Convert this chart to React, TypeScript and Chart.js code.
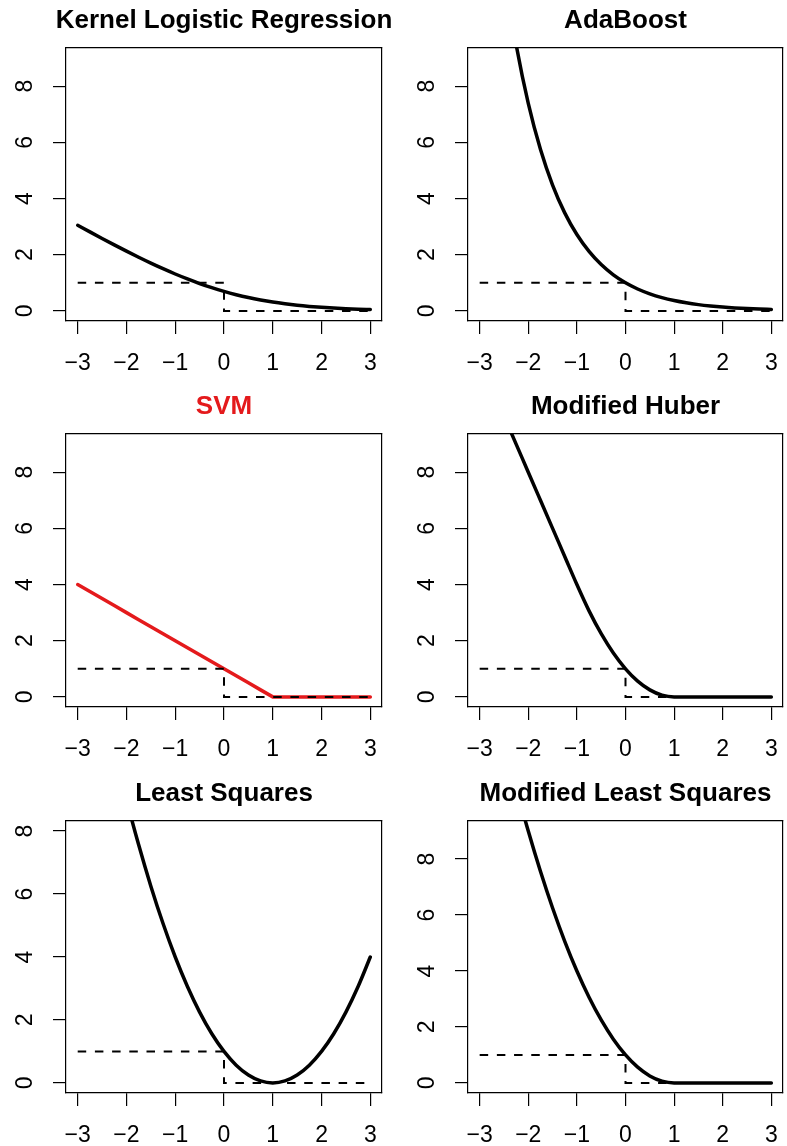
import React, { useEffect, useRef } from "react";
import { Chart, registerables } from "chart.js";

Chart.register(...registerables);

// ---------- data ----------
const lossX = [-3, -2.75, -2.5, -2.25, -2, -1.75, -1.5, -1.25, -1, -0.75, -0.5, -0.25, 0, 0.25, 0.5, 0.75, 1, 1.25, 1.5, 1.75, 2, 2.25, 2.5, 2.75, 3];

const logisticLoss = [3.049, 2.812, 2.579, 2.35, 2.127, 1.91, 1.701, 1.502, 1.313, 1.137, 0.974, 0.826, 0.693, 0.576, 0.474, 0.387, 0.313, 0.252, 0.201, 0.16, 0.127, 0.1, 0.079, 0.062, 0.049];
const expLoss = [20.086, 15.643, 12.182, 9.488, 7.389, 5.755, 4.482, 3.49, 2.718, 2.117, 1.649, 1.284, 1.0, 0.779, 0.607, 0.472, 0.368, 0.287, 0.223, 0.174, 0.135, 0.105, 0.082, 0.064, 0.05];
const hingeLoss = [4, 3.75, 3.5, 3.25, 3, 2.75, 2.5, 2.25, 2, 1.75, 1.5, 1.25, 1, 0.75, 0.5, 0.25, 0, 0, 0, 0, 0, 0, 0, 0, 0];
const huberLoss = [12, 11, 10, 9, 8, 7, 6, 5, 4, 3.0625, 2.25, 1.5625, 1, 0.5625, 0.25, 0.0625, 0, 0, 0, 0, 0, 0, 0, 0, 0];
const squaredLoss = [16, 14.0625, 12.25, 10.5625, 9, 7.5625, 6.25, 5.0625, 4, 3.0625, 2.25, 1.5625, 1, 0.5625, 0.25, 0.0625, 0, 0.0625, 0.25, 0.5625, 1, 1.5625, 2.25, 3.0625, 4];
const modSquaredLoss = [16, 14.0625, 12.25, 10.5625, 9, 7.5625, 6.25, 5.0625, 4, 3.0625, 2.25, 1.5625, 1, 0.5625, 0.25, 0.0625, 0, 0, 0, 0, 0, 0, 0, 0, 0];

const zeroOneX = [-3, 0, 0, 3];
const zeroOneY = [1, 1, 0, 0];

const xTickValues = [-3, -2, -1, 0, 1, 2, 3];
const yTickValues = [0, 2, 4, 6, 8];

const panelTitles = ["Kernel Logistic Regression", "AdaBoost", "SVM", "Modified Huber", "Least Squares", "Modified Least Squares"];
const panelYLimits = [9, 9, 9, 9, 8, 9];

// ---------- style ----------
const FONT = "'Liberation Sans', Arial, Helvetica, sans-serif";
const BLACK = "#000000";
const RED = "#E41A1C";
const AXIS = 66; // space left/right of the plot box inside a canvas
const TOP = 48; // plot box top inside a canvas
const TITLE_TOP = 8;
const TITLE_SIZE = 26;
const TICK_SIZE = 23;

type PanelProps = {
  title: string;
  color: string;
  values: number[];
  yLimit: number;
  smooth: boolean;
  left: number;
  top: number;
  boxW: number;
  boxH: number;
  height: number;
};

function Panel(p: PanelProps) {
  const ref = useRef<HTMLCanvasElement>(null);
  const width = p.boxW + 2 * AXIS;
  const bottomSpace = p.height - TOP - p.boxH;

  useEffect(() => {
    const canvas = ref.current;
    if (!canvas) return;
    const xPad = (3 - -3) * 0.04;
    const yPad = p.yLimit * 0.04;
    const zeroPad = (s: any) => {
      s.paddingLeft = s.paddingRight = s.paddingTop = s.paddingBottom = 0;
    };
    const chart = new Chart(canvas, {
      type: "line",
      data: {
        datasets: [
          {
            label: "0-1",
            data: zeroOneX.map((x, i) => ({ x, y: zeroOneY[i] })),
            borderColor: BLACK,
            borderWidth: 2,
            borderDash: [8.5, 8.7],
            borderCapStyle: "butt",
            pointRadius: 0,
            tension: 0,
            order: 0,
            clip: 0,
          } as any,
          {
            label: p.title,
            data: lossX.map((x, i) => ({ x, y: p.values[i] })),
            borderColor: p.color,
            borderWidth: 3.5,
            borderCapStyle: "round",
            borderJoinStyle: "round",
            pointRadius: 0,
            tension: 0,
            cubicInterpolationMode: p.smooth ? "monotone" : "default",
            order: 1,
            clip: 0,
          } as any,
        ],
      },
      options: {
        responsive: false,
        animation: false,
        events: [],
        layout: { padding: { left: 0, right: 0, top: TITLE_TOP, bottom: 0 } },
        elements: { line: { capBezierPoints: false } },
        plugins: {
          legend: { display: false },
          tooltip: { enabled: false },
          title: {
            display: true,
            text: p.title,
            color: p.color,
            font: { family: FONT, size: TITLE_SIZE, weight: "bold", lineHeight: 1 },
            padding: { top: 0, bottom: TOP - TITLE_TOP - TITLE_SIZE },
          },
        },
        scales: {
          x: {
            type: "linear",
            position: "bottom",
            min: -3 - xPad,
            max: 3 + xPad,
            afterBuildTicks: (s: any) => {
              s.ticks = xTickValues.map((v) => ({ value: v }));
            },
            afterFit: (s: any) => {
              s.height = bottomSpace;
              zeroPad(s);
            },
            ticks: {
              autoSkip: false,
              maxRotation: 0,
              minRotation: 0,
              padding: 16,
              color: BLACK,
              font: { family: FONT, size: TICK_SIZE },
              callback: (v: any) => (Number(v) < 0 ? "\u2212" + Math.abs(Number(v)) : String(v)),
            },
            grid: { drawOnChartArea: false, drawTicks: true, tickLength: 13, color: BLACK, lineWidth: 1.2 },
            border: { display: true, color: BLACK, width: 1.2 },
          },
          y: {
            type: "linear",
            position: "left",
            min: -yPad,
            max: p.yLimit + yPad,
            afterBuildTicks: (s: any) => {
              s.ticks = yTickValues.map((v) => ({ value: v }));
            },
            afterFit: (s: any) => {
              s.width = AXIS;
              zeroPad(s);
            },
            ticks: {
              autoSkip: false,
              minRotation: 90,
              maxRotation: 90,
              crossAlign: "center",
              padding: 21,
              color: BLACK,
              font: { family: FONT, size: TICK_SIZE },
              callback: (v: any) => String(v),
            },
            grid: { drawOnChartArea: false, drawTicks: true, tickLength: 13, color: BLACK, lineWidth: 1.2 },
            border: { display: true, color: BLACK, width: 1.2 },
          },
          x2: {
            type: "linear",
            position: "top",
            display: true,
            afterFit: (s: any) => {
              s.height = 0;
              zeroPad(s);
            },
            ticks: { display: false },
            grid: { display: false, lineWidth: 1.2 },
            border: { display: true, color: BLACK, width: 1.2 },
          },
          y2: {
            type: "linear",
            position: "right",
            display: true,
            afterFit: (s: any) => {
              s.width = AXIS;
              zeroPad(s);
            },
            ticks: { display: false },
            grid: { display: false, lineWidth: 1.2 },
            border: { display: true, color: BLACK, width: 1.2 },
          },
        } as any,
      },
    });
    return () => chart.destroy();
  }, []);

  return (
    <canvas
      ref={ref}
      width={width}
      height={p.height}
      style={{ position: "absolute", left: p.left, top: p.top, width, height: p.height }}
    />
  );
}

const seriesList = [logisticLoss, expLoss, hingeLoss, huberLoss, squaredLoss, modSquaredLoss];
const colLeft = [66, 468];
const colWidth = [316, 315];
const rowTop = [48, 434, 821];
const rowBoxH = [273, 273, 272];
const rowCanvasH = [386, 386, 373];

export default function App() {
  return (
    <div
      style={{
        position: "absolute",
        left: 0,
        top: 0,
        width: 787,
        height: 1146,
        overflow: "hidden",
        background: "#ffffff",
      }}
    >
      {panelTitles.map((title, i) => {
        const col = i % 2;
        const row = Math.floor(i / 2);
        const isSvm = i === 2;
        return (
          <Panel
            key={title}
            title={title}
            color={isSvm ? RED : BLACK}
            values={seriesList[i]}
            yLimit={panelYLimits[i]}
            smooth={!isSvm}
            left={colLeft[col] - AXIS}
            top={rowTop[row] - TOP}
            boxW={colWidth[col]}
            boxH={rowBoxH[row]}
            height={rowCanvasH[row]}
          />
        );
      })}
    </div>
  );
}
